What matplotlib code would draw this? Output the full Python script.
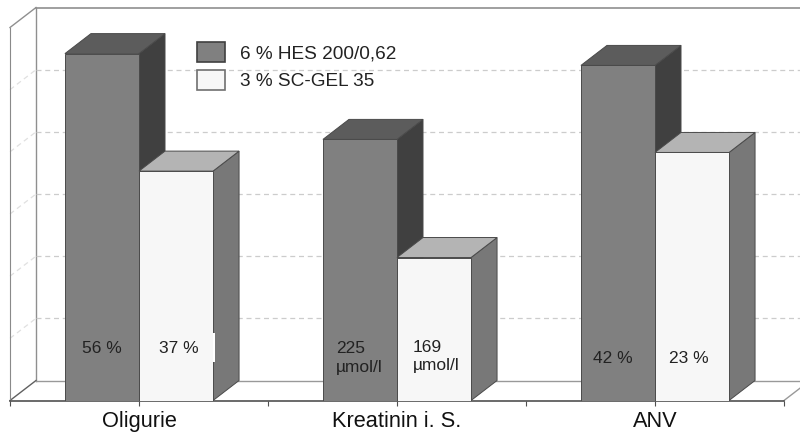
import matplotlib
matplotlib.use('Agg')
import matplotlib.pyplot as plt
from matplotlib.patches import Polygon, Patch, Rectangle

plt.rcParams['font.family'] = ['Liberation Sans', 'DejaVu Sans']

categories = ['Oligurie', 'Kreatinin i. S.', 'ANV']
hes_heights = [55.8, 42.0, 53.9]
gel_heights = [36.9, 23.0, 39.9]
hes_labels = ['56 %', '225\nµmol/l', '42 %']
gel_labels = ['37 %', '169\nµmol/l', '23 %']
grid_values = [10, 20, 30, 40, 50]
series_names = ['6 % HES 200/0,62', '3 % SC-GEL 35']

DX = 0.1008
DY = 3.217
W = 0.287
START = 0.213

fig = plt.figure(figsize=(8, 4.32), dpi=100)
ax = fig.add_axes([10/800, (432-400.5)/432, 774/800, 373/432])
ax.set_xlim(0, 3)
ax.set_ylim(0, 60)
for s in ['top', 'right']:
    ax.spines[s].set_visible(False)
ax.spines['left'].set_color('#8a8a8a')
ax.spines['bottom'].set_color('#505050')
ax.spines['bottom'].set_linewidth(1.2)

ax.set_xticks([0, 1, 2, 3])
ax.set_xticklabels([])
ax.set_xticks([0.5, 1.5, 2.5], minor=True)
ax.set_xticklabels(categories, minor=True, fontsize=15.7, color='#111111')
ax.tick_params(axis='x', which='major', length=3.5, color='#505050', width=0.8)
ax.tick_params(axis='x', which='minor', length=3.5, color='#505050', width=0.8, pad=4)
ax.set_yticks([])

# walls and floor
wall = '#8f8f8f'
ax.plot([0, DX], [60, 60 + DY], color=wall, lw=1, clip_on=False)
ax.plot([DX, DX], [DY, 60 + DY], color=wall, lw=1, clip_on=False)
ax.plot([DX, 3.2], [60 + DY, 60 + DY], color=wall, lw=1.2, clip_on=False)
ax.plot([0, DX], [0, DY], color='#606060', lw=1, clip_on=False)
ax.plot([DX, 3.2], [DY, DY], color='#999999', lw=1, clip_on=False)
ax.plot([3, 3 + DX], [0, DY], color='#999999', lw=1, clip_on=False)

for v in grid_values:
    ax.plot([DX, 3.2], [v + DY, v + DY], color='#cccccc', lw=0.9, ls=(0, (4, 3)), clip_on=False)
    ax.plot([0, DX], [v, v + DY], color='#e0e0e0', lw=0.9, ls=(0, (4, 3)), clip_on=False)


def draw_bar(x, h, front, top, side):
    edge = '#4a4a4a'
    ax.add_patch(Polygon([(x + W, 0), (x + W + DX, DY), (x + W + DX, h + DY), (x + W, h)],
                         fc=side, ec=edge, lw=0.7, clip_on=False, zorder=3))
    ax.add_patch(Polygon([(x, h), (x + DX, h + DY), (x + W + DX, h + DY), (x + W, h)],
                         fc=top, ec=edge, lw=0.7, clip_on=False, zorder=3))
    ax.bar(x, h, W, align='edge', color=front, edgecolor=edge, linewidth=0.7, zorder=3)


for i in range(len(categories)):
    draw_bar(i + START, hes_heights[i], '#808080', '#5c5c5c', '#404040')
    draw_bar(i + START + W, gel_heights[i], '#f7f7f7', '#b4b4b4', '#787878')

# white notch left by the label box in the original
ax.add_patch(Rectangle((START + 2*W - 0.002, 6.2), 0.01, 4.7, fc='white', ec='none', zorder=4))

text_kw = dict(fontsize=12.5, color='#222222', zorder=5, linespacing=1.3)
ax.text(START + W/2 + 0.001, 8.3, hes_labels[0], ha='center', va='center', **text_kw)
ax.text(START + W*1.5 + 0.009, 8.3, gel_labels[0], ha='center', va='center', **text_kw)
ax.text(1 + START + 0.05, 6.8, hes_labels[1], ha='left', va='center', **text_kw)
ax.text(1 + START + W + 0.062, 7.1, gel_labels[1], ha='left', va='center', **text_kw)
ax.text(2 + START + W/2 - 0.019, 6.8, hes_labels[2], ha='center', va='center', **text_kw)
ax.text(2 + START + W*1.5 - 0.012, 6.8, gel_labels[2], ha='center', va='center', **text_kw)

handles = [Patch(fc='#808080', ec='#404040', lw=1.2),
           Patch(fc='#f7f7f7', ec='#707070', lw=1.2)]
leg = ax.legend(handles, series_names, loc='upper left', bbox_to_anchor=(0.2416, 0.961),
                frameon=False, fontsize=13.7, handlelength=1.47, handleheight=1.2,
                handletextpad=0.79, labelspacing=0.42, borderpad=0, borderaxespad=0)
leg.set_zorder(6)
for t in leg.get_texts():
    t.set_color('#222222')

fig.savefig('out.png', dpi=100)
